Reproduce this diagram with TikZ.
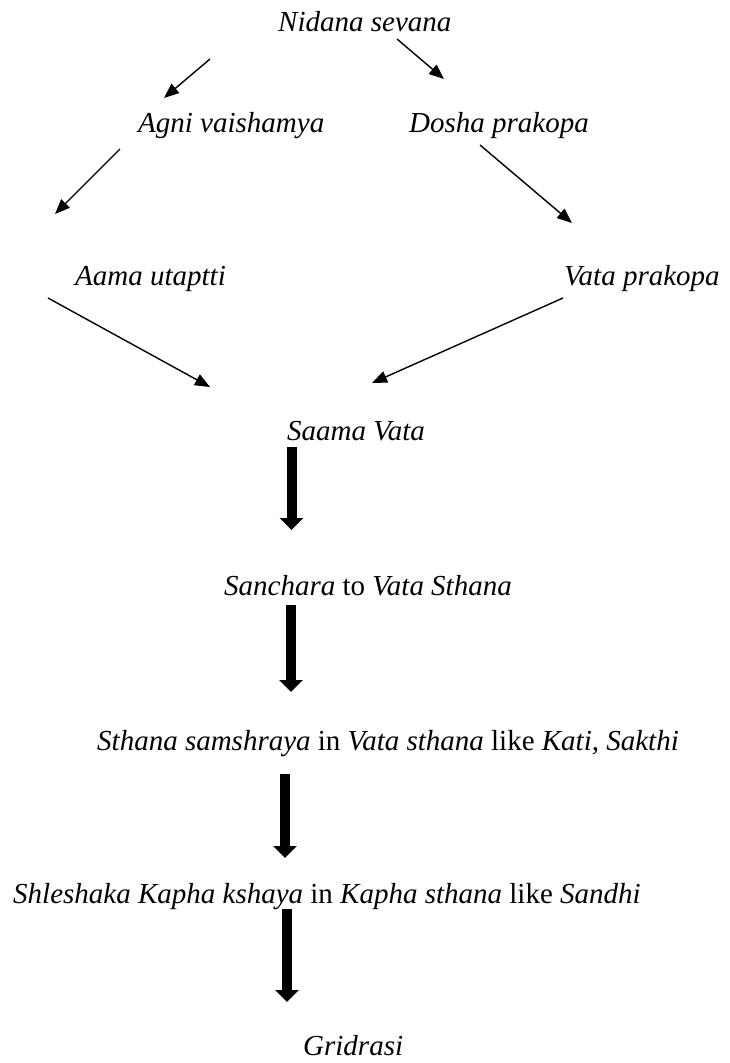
\documentclass[tikz,border=0pt]{standalone}
\usepackage{fontspec}
\setmainfont{Liberation Serif}
\usetikzlibrary{arrows.meta}
\tikzset{
  lbl/.style={anchor=base west, inner sep=0pt, font=\fontsize{29}{34}\selectfont},
  thinarrow/.style={line width=1.4pt, -{Triangle[width=12pt,length=15pt]}},
  thickarrow/.style={line width=10pt, -{Triangle[width=23pt,length=12pt]}}
}
\begin{document}
\begin{tikzpicture}[x=1pt,y=-1pt]
\useasboundingbox (0,0) rectangle (729,1063);
% labels
\node[lbl] (nidana)   at (278,31)  {\textit{Nidana sevana}};
\node[lbl] (agni)     at (138,132) {\textit{Agni vaishamya}};
\node[lbl] (dosha)    at (409,132) {\textit{Dosha prakopa}};
\node[lbl] (aama)     at (75,285)  {\textit{Aama utaptti}};
\node[lbl] (vata)     at (564,285) {\textit{Vata prakopa}};
\node[lbl] (saama)    at (287,440) {\textit{Saama Vata}};
\node[lbl] (sanchara) at (224,595) {\textit{Sanchara} to \textit{Vata Sthana}};
\node[lbl] (sthana)   at (97,750)  {\textit{Sthana samshraya} in \textit{Vata sthana} like \textit{Kati, Sakthi}};
\node[lbl] (shlesh)   at (13,903)  {\textit{Shleshaka Kapha kshaya} in \textit{Kapha sthana} like \textit{Sandhi}};
\node[lbl] (grid)     at (303,1055){\textit{Gridrasi}};
% connector end points
\coordinate (nA) at (210,59);  \coordinate (agniIn)  at (164,98);
\coordinate (nD) at (397,39);  \coordinate (doshaIn) at (444,79);
\coordinate (aA) at (120,149); \coordinate (aamaIn)  at (55,214);
\coordinate (dV) at (480,145); \coordinate (vataIn)  at (572,223);
\coordinate (aS) at (48,298);  \coordinate (saamaInL) at (210,387);
\coordinate (vS) at (563,298); \coordinate (saamaInR) at (372,383);
\coordinate (s1) at (291.5,447); \coordinate (sancharaIn) at (291.5,530);
\coordinate (s2) at (291,605);   \coordinate (sthanaIn)   at (291,692);
\coordinate (s3) at (285,774);   \coordinate (shleshIn)   at (285,858);
\coordinate (s4) at (287,909);   \coordinate (gridIn)     at (287,1002);
% thin arrows
\draw[thinarrow] (nA) -- (agniIn);
\draw[thinarrow] (nD) -- (doshaIn);
\draw[thinarrow] (aA) -- (aamaIn);
\draw[thinarrow] (dV) -- (vataIn);
\draw[thinarrow] (aS) -- (saamaInL);
\draw[thinarrow] (vS) -- (saamaInR);
% thick arrows
\draw[thickarrow] (s1) -- (sancharaIn);
\draw[thickarrow] (s2) -- (sthanaIn);
\draw[thickarrow] (s3) -- (shleshIn);
\draw[thickarrow] (s4) -- (gridIn);
\end{tikzpicture}
\end{document}
